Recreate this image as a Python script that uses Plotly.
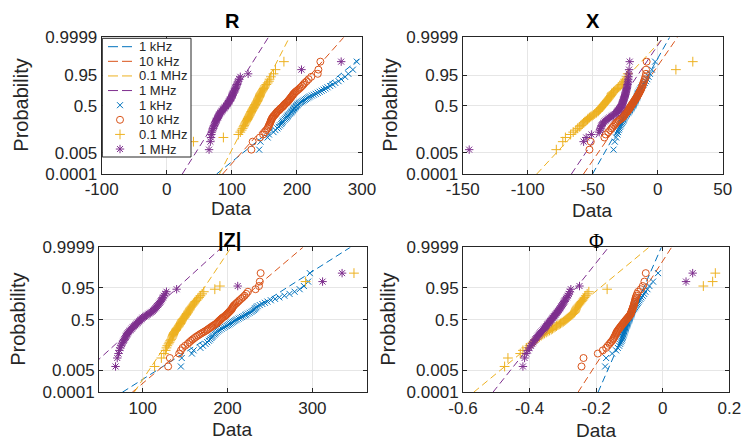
from statistics import NormalDist

import numpy as np
import plotly.graph_objects as go
from plotly.subplots import make_subplots

# --------------------------------------------------
# data: sorted samples per frequency, one list per panel
# --------------------------------------------------
freqs = ["1 kHz", "10 kHz", "0.1 MHz", "1 MHz"]

r_1khz = [142, 144, 155, 157, 164, 167, 170, 172, 174, 176, 177, 178, 179, 181, 182.5, 184, 185, 186, 187, 188.5,
          190, 191, 192, 193, 194, 195, 196, 197, 198, 199, 200, 201, 202.5, 204, 206, 208, 210, 212, 214, 216,
          218, 220, 223, 226, 229, 232, 235, 238, 241, 244, 247, 251, 255, 259, 264, 268, 274, 279, 286, 292]
r_10khz = [130, 132, 143, 148, 151, 153, 155, 156, 157, 158, 159, 159.5, 160, 161, 161.5, 162.5, 163.5, 164.5, 166, 167,
           168, 169, 170, 171.5, 173, 174, 175, 176.5, 178, 179, 180, 181, 182, 183.5, 185, 186, 187, 188, 189, 190,
           191, 192, 193, 194, 195, 196.5, 198, 200, 202, 204, 206, 208, 210, 212, 215, 218, 222, 232, 233, 236]
r_100khz = [20, 41, 87, 110, 113, 115, 116.5, 118, 119, 120, 121, 122, 123, 124, 124.5, 125.5, 126, 127, 127.5, 128,
            129, 129.5, 130, 131, 131.5, 132, 133, 133.5, 134, 135, 135.5, 136, 137, 137.5, 138, 139, 139.5, 140, 140.5, 141,
            142, 142.5, 143, 143.5, 144, 145, 146, 147, 148, 149, 150, 151, 153, 155, 157, 158, 160, 164, 167, 180]
r_1mhz = [65, 67, 68, 68.5, 69, 70, 71, 72, 73, 74, 74.5, 75, 76, 77, 77.5, 78.5, 79, 80, 80.5, 81,
          82, 83, 84, 85, 86, 87, 88, 89, 90, 91, 92, 93, 93.5, 94, 95, 96, 96.5, 97, 98, 99,
          99.5, 100, 100.5, 101, 101.5, 102.5, 103, 104, 105, 105.5, 106, 107, 108, 109, 110, 111, 113, 125, 207, 268]

x_1khz = [-34, -33, -32, -31, -30.5, -30, -29.5, -29, -28.5, -28, -27.5, -27, -26.5, -26.2, -26, -25.7, -25.2, -24.7, -24.2, -23.7,
          -23.2, -22.7, -22.2, -21.8, -21.4, -21, -20.6, -20.2, -19.8, -19.4, -19, -18.7, -18.4, -18.1, -17.8, -17.5, -17.2, -16.9, -16.6, -16.3,
          -16, -15.8, -15.6, -15.4, -15.2, -15, -14.5, -14, -13.5, -13, -12.5, -12, -11, -10, -9, -8, -7, -6, -4.5, -2]
x_10khz = [-52.5, -51.5, -41, -40, -38, -36.5, -35.5, -34.5, -33.5, -32.5, -32, -31, -30, -29, -28, -27, -26.5, -26, -25.5, -25,
           -24.5, -24, -23.5, -23, -22.5, -22, -21.7, -21.4, -21, -20.6, -20.2, -19.8, -19.4, -19, -18.6, -18.2, -17.8, -17.4, -17, -16.6,
           -16.2, -15.8, -15.4, -15, -14.6, -14.2, -13.8, -13.4, -13, -12.6, -12.2, -11.8, -11.4, -11, -10.5, -10, -9.5, -9, -9, -8.5]
x_100khz = [-78, -73, -71, -67, -65, -63, -61.5, -60, -59, -58, -57, -56, -55, -54, -53.5, -52.5, -51.5, -50.5, -49.5, -48.5,
            -47.5, -47, -46, -45.5, -45, -44.5, -44, -43.5, -43, -42.5, -42, -41.5, -41, -40.5, -40, -39.5, -39, -38.5, -38, -37.5,
            -37, -36.5, -36, -35.5, -35.5, -35, -34, -33, -32, -31, -30, -29, -28, -27, -26, -25, -24, -23, 14, 27]
x_1mhz = [-145, -57, -55, -51, -45, -44.5, -44, -43.5, -43, -42.5, -42, -41, -40, -39, -38, -37, -36, -35, -34, -33,
          -32, -31.5, -31, -30.5, -30, -29.5, -29, -28.5, -28, -27.8, -27.6, -27.4, -27.2, -27, -26.8, -26.6, -26.4, -26.2, -26, -25.8,
          -25.6, -25.4, -25.2, -25, -24.8, -24.6, -24.4, -24.2, -24, -23.8, -23.6, -23.4, -23.2, -23, -22.8, -22.6, -22.4, -22.2, -22, -21.5]

zmag_1khz = [145, 146, 158, 160, 168, 171, 174, 176, 178, 179.5, 181, 182, 183, 184.5, 185.5, 186.5, 188, 189.5, 191, 193,
             195, 197, 199, 200.5, 202, 203.5, 205, 206.5, 208, 209.5, 211, 213, 215, 217, 219, 221, 222, 224, 226, 228,
             229.5, 231, 232, 233, 234, 235.5, 238, 241, 244, 247, 251, 256, 261, 267, 273, 279, 285, 290, 295, 297]
zmag_10khz = [130, 132, 143, 145, 147, 150, 153, 155, 157, 159, 161, 163, 165, 167, 169, 171, 173, 175, 176.5, 178,
              179.5, 181, 182.5, 184, 185.5, 187, 188, 189, 190, 191, 192, 193, 194, 195.5, 197, 198, 199, 200, 201, 202,
              203, 204, 205, 205.5, 206, 207, 208, 209.5, 211, 212.5, 214, 216, 218, 220, 222, 224, 233, 237, 238, 239]
zmag_100khz = [114, 122, 125, 127, 128, 129, 130.5, 131.5, 132.5, 133.5, 134.5, 135, 135.5, 136, 136.5, 137, 138, 139, 139.5, 140,
               141, 142, 142.5, 143, 144, 144.5, 145, 145.5, 146, 146.5, 147, 148, 149, 149.5, 150, 151, 151.5, 152, 153, 153.5,
               154, 155, 155.5, 156, 157, 158, 159, 160, 161, 162, 163.5, 165, 166.5, 168, 170, 172, 185, 191, 292, 349]
zmag_1mhz = [68, 70, 71.5, 72.5, 73.5, 74.5, 75.5, 76.5, 77.5, 78.5, 79.5, 80, 80.5, 81.5, 82, 83, 84, 85, 86, 87,
             88, 89, 90, 91, 92, 93, 94, 95, 96, 97, 98, 99, 100, 101.5, 103, 104.5, 106, 107.5, 109, 110.5,
             112, 113, 114, 115, 116, 117, 118, 119, 120, 121, 122, 123, 124, 125, 126.5, 128, 140, 212, 312, 335]

phi_1khz = [-0.173, -0.17, -0.152, -0.14, -0.135, -0.131, -0.128, -0.126, -0.124, -0.122, -0.121, -0.12, -0.119, -0.118, -0.117,
            -0.116, -0.115, -0.114, -0.113, -0.112, -0.111, -0.11, -0.109, -0.108, -0.107, -0.106, -0.105, -0.104, -0.103, -0.102,
            -0.101, -0.1, -0.099, -0.098, -0.097, -0.096, -0.095, -0.094, -0.093, -0.092, -0.091, -0.089, -0.087, -0.085, -0.083,
            -0.081, -0.079, -0.077, -0.075, -0.073, -0.07, -0.067, -0.064, -0.06, -0.056, -0.052, -0.046, -0.04, -0.029, -0.014]
phi_10khz = [-0.244, -0.238, -0.195, -0.18, -0.17, -0.165, -0.16, -0.156, -0.152, -0.149, -0.147, -0.145, -0.143, -0.141, -0.14,
             -0.139, -0.137, -0.135, -0.133, -0.131, -0.129, -0.127, -0.125, -0.123, -0.121, -0.119, -0.117, -0.115, -0.113, -0.111,
             -0.109, -0.107, -0.105, -0.103, -0.101, -0.099, -0.097, -0.096, -0.095, -0.094, -0.093, -0.092, -0.091, -0.09, -0.089,
             -0.088, -0.087, -0.086, -0.085, -0.084, -0.083, -0.082, -0.081, -0.079, -0.077, -0.074, -0.066, -0.06, -0.055, -0.051]
phi_100khz = [-0.475, -0.465, -0.428, -0.42, -0.41, -0.4, -0.395, -0.39, -0.385, -0.38, -0.375, -0.37, -0.365, -0.36, -0.355,
              -0.35, -0.345, -0.34, -0.335, -0.331, -0.327, -0.323, -0.319, -0.315, -0.311, -0.307, -0.303, -0.299, -0.296, -0.293,
              -0.29, -0.287, -0.284, -0.281, -0.278, -0.275, -0.272, -0.269, -0.266, -0.264, -0.263, -0.262, -0.261, -0.26, -0.258,
              -0.256, -0.253, -0.25, -0.247, -0.244, -0.241, -0.238, -0.235, -0.231, -0.227, -0.222, -0.167, 0.122, 0.15, 0.158]
phi_1mhz = [-0.42, -0.415, -0.41, -0.405, -0.4, -0.396, -0.392, -0.389, -0.386, -0.383, -0.38, -0.377, -0.374, -0.371, -0.369,
            -0.367, -0.364, -0.361, -0.358, -0.356, -0.354, -0.352, -0.35, -0.348, -0.346, -0.344, -0.342, -0.34, -0.338, -0.336,
            -0.334, -0.332, -0.33, -0.328, -0.326, -0.324, -0.322, -0.32, -0.318, -0.316, -0.314, -0.312, -0.31, -0.308, -0.306,
            -0.304, -0.302, -0.3, -0.298, -0.296, -0.294, -0.291, -0.288, -0.285, -0.282, -0.279, -0.276, -0.25, 0.07, 0.09]

panel_titles = ["<b>R</b>", "<b>X</b>", "<b>|Z|</b>", "Φ"]
panel_data = [
    [r_1khz, r_10khz, r_100khz, r_1mhz],
    [x_1khz, x_10khz, x_100khz, x_1mhz],
    [zmag_1khz, zmag_10khz, zmag_100khz, zmag_1mhz],
    [phi_1khz, phi_10khz, phi_100khz, phi_1mhz],
]
x_ranges = [[-100, 300], [-150, 50], [48.5, 364], [-0.6, 0.2]]
x_ticks = [[-100, 0, 100, 200, 300], [-150, -100, -50, 0, 50], [100, 200, 300], [-0.6, -0.4, -0.2, 0, 0.2]]
x_ticktext = [["-100", "0", "100", "200", "300"], ["-150", "-100", "-50", "0", "50"],
              ["100", "200", "300"], ["-0.6", "-0.4", "-0.2", "0", "0.2"]]
prob_ticks = [0.0001, 0.005, 0.5, 0.95, 0.9999]
prob_labels = ["0.0001", "0.005", "0.5", "0.95", "0.9999"]

# MATLAB default colour order and normplot markers
colors = ["#0072BD", "#D95319", "#EDB120", "#7E2F8E"]
symbols = ["x-thin-open", "circle-open", "cross-thin-open", "asterisk-open"]
msizes = [6, 7, 7, 7]

FONT = "Liberation Sans, Arial, Helvetica, sans-serif"
TXT = "#262626"
W, H = 754, 447
DASH = "7px,4px"

nd = NormalDist()
zlim = nd.inv_cdf(0.9999)
zq = nd.inv_cdf(0.75)

# axes boxes in pixels: (left, right, top, bottom)
boxes = [(101.7, 362.0, 37.3, 174.0), (462.7, 722.7, 37.3, 174.0),
         (99.0, 366.7, 247.3, 392.3), (463.0, 729.3, 247.3, 392.3)]

fig = make_subplots(rows=2, cols=2)

for k, series in enumerate(panel_data):
    row, col = k // 2 + 1, k % 2 + 1
    # reference lines first (quartile fit like normplot), then the markers
    for i, vals in enumerate(series):
        x = np.sort(np.asarray(vals, dtype=float))
        q1, q3 = np.percentile(x, [25, 75], method="hazen")
        slope = (q3 - q1) / (2 * zq)
        mid = (q1 + q3) / 2
        zl = [-zlim, zlim]
        fig.add_trace(go.Scatter(x=[float(mid + slope * v) for v in zl], y=zl, mode="lines",
                                 line=dict(color=colors[i], width=1, dash=DASH),
                                 showlegend=False, hoverinfo="skip"), row=row, col=col)
    for i, vals in enumerate(series):
        x = sorted(float(v) for v in vals)
        n = len(x)
        z = [nd.inv_cdf((j - 0.5) / n) for j in range(1, n + 1)]
        fig.add_trace(go.Scatter(x=x, y=z, mode="markers", name=freqs[i],
                                 marker=dict(symbol=symbols[i], size=msizes[i], color=colors[i],
                                             line=dict(width=1, color=colors[i])),
                                 showlegend=False), row=row, col=col)

axis_style = dict(showline=True, mirror="allticks", linecolor=TXT, linewidth=1,
                  ticks="inside", ticklen=4, tickcolor=TXT, showgrid=True,
                  gridcolor="#e6e6e6", gridwidth=1, zeroline=False, automargin=False,
                  tickfont=dict(family=FONT, size=17, color=TXT))

for k in range(4):
    l, r, t, b = boxes[k]
    xa = "xaxis" if k == 0 else f"xaxis{k + 1}"
    ya = "yaxis" if k == 0 else f"yaxis{k + 1}"
    fig.layout[xa].update(domain=[l / W, r / W], range=x_ranges[k], tickvals=x_ticks[k],
                          ticktext=x_ticktext[k], **axis_style)
    fig.layout[ya].update(domain=[1 - b / H, 1 - t / H], range=[-zlim, zlim],
                          tickvals=[nd.inv_cdf(p) for p in prob_ticks], ticktext=prob_labels,
                          **axis_style)

# --------------------------------------------------
# legend drawn inside the R panel on a hidden pixel-space axis
# --------------------------------------------------
fig.update_layout(xaxis5=dict(domain=[0, 1], range=[0, W], visible=False, fixedrange=True, automargin=False),
                  yaxis5=dict(domain=[0, 1], range=[H, 0], visible=False, fixedrange=True, automargin=False))
lg_l, lg_r, lg_t, lg_b = 102.3, 191.0, 38.3, 157.0
fig.add_trace(go.Scatter(x=[lg_l, lg_r, lg_r, lg_l, lg_l], y=[lg_t, lg_t, lg_b, lg_b, lg_t],
                         mode="lines", fill="toself", fillcolor="white",
                         line=dict(color=TXT, width=1), xaxis="x5", yaxis="y5",
                         showlegend=False, hoverinfo="skip"))
row_y = [46.7 + 14.62 * j for j in range(8)]
annotations = []
for j in range(8):
    i = j % 4
    if j < 4:
        fig.add_trace(go.Scatter(x=[108, 132], y=[row_y[j]] * 2, mode="lines",
                                 line=dict(color=colors[i], width=1, dash="10px,4px"),
                                 xaxis="x5", yaxis="y5", showlegend=False, hoverinfo="skip"))
    else:
        fig.add_trace(go.Scatter(x=[120], y=[row_y[j]], mode="markers",
                                 marker=dict(symbol=symbols[i], size=msizes[i], color=colors[i],
                                             line=dict(width=1, color=colors[i])),
                                 xaxis="x5", yaxis="y5", showlegend=False, hoverinfo="skip"))
    annotations.append(dict(x=136.5 / W, y=1 - row_y[j] / H, xref="paper", yref="paper",
                            text=freqs[i], showarrow=False, xanchor="left", yanchor="middle",
                            font=dict(family=FONT, size=13, color=TXT)))

# titles and axis labels
title_pos = [(232, 21), (593, 21), (229, 240), (596, 241)]
ylab_x = [21, 390, 18, 388]
xlab_y = [209, 210, 429, 430]
for k in range(4):
    l, r, t, b = boxes[k]
    fam = "Liberation Serif, Times New Roman, serif" if k == 3 else FONT
    annotations.append(dict(x=title_pos[k][0] / W, y=1 - title_pos[k][1] / H, xref="paper", yref="paper",
                            text=panel_titles[k], showarrow=False, xanchor="center", yanchor="middle",
                            font=dict(family=fam, size=20, color="black")))
    annotations.append(dict(x=ylab_x[k] / W, y=1 - (t + b) / 2 / H, xref="paper", yref="paper",
                            text="Probability", textangle=-90, showarrow=False,
                            xanchor="center", yanchor="middle", font=dict(family=FONT, size=20, color=TXT)))
    annotations.append(dict(x=(l + r) / 2 / W, y=1 - xlab_y[k] / H, xref="paper", yref="paper",
                            text="Data", showarrow=False, xanchor="center", yanchor="middle",
                            borderpad=0, font=dict(family=FONT, size=19, color=TXT)))

# transparent plot area: the full-page legend subplot would otherwise paint over the panels
fig.update_layout(width=W, height=H, margin=dict(l=0, r=0, t=0, b=0, autoexpand=False),
                  paper_bgcolor="white", plot_bgcolor="rgba(0,0,0,0)",
                  showlegend=False, annotations=annotations)

# drop the browser's default body margin so the figure sits at the page corner
fig.write_html("out.html", config={"displayModeBar": False},
               post_script="document.body.style.margin='0';")
